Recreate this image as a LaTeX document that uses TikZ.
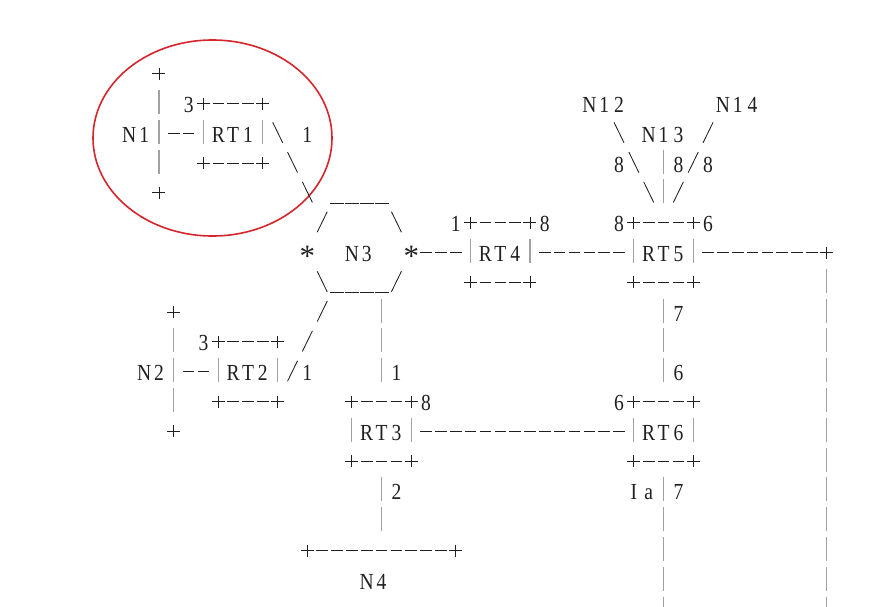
\documentclass[tikz,border=0pt]{standalone}
\usepackage{fontspec}
\setmainfont{Liberation Serif}
\usepackage{graphicx}
\usetikzlibrary{shapes.geometric}
\definecolor{ink}{RGB}{32,32,32}
\definecolor{barc}{RGB}{160,160,168}
\definecolor{ringred}{RGB}{214,38,44}
\tikzset{
  inkline/.style={draw=ink, line width=0.85pt},
  barline/.style={draw=barc, line width=1.1pt},
  glyph/.style={anchor=base, inner sep=0pt, outer sep=0pt, text=ink, font=\fontsize{23}{23}\selectfont},
  ringshape/.style={draw=ringred, line width=1.6pt, ellipse, inner sep=0pt, minimum width=239pt, minimum height=196pt}
}
\newcount\colidx
\def\pitch{14.84}
\def\xzero{129.3}
\def\yzero{82.7}
\def\rowgap{29.8}
\let\endrow\relax
\newcommand\seg[3]{\def\currow{#1}\colidx=#2\relax\rowloop#3\endrow}
\def\rowloop#1{\ifx#1\endrow\else\drawcell#1\advance\colidx by 1\relax\expandafter\rowloop\fi}
\def\drawcell#1{%
  \pgfmathsetmacro\cx{\xzero+\pitch*\the\colidx}%
  \pgfmathsetmacro\cy{\yzero+\rowgap*\currow}%
  \ifx#1.\else
  \ifx#1-\draw[inkline] (\cx-5.8,\cy-9) -- (\cx+5.8,\cy-9);\else
  \ifx#1+\draw[inkline] (\cx-6.5,\cy-9) -- (\cx+6.5,\cy-9) (\cx,\cy-15) -- (\cx,\cy-3);\else
  \ifx#1|\draw[barline] (\cx,\cy-22.5) -- (\cx,\cy+1.5);\else
  \ifx#1!\draw[inkline] (\cx-5,\cy-20) -- (\cx+5,\cy+0.5);\else
  \ifx#1/\draw[inkline] (\cx+5,\cy-20) -- (\cx-5,\cy+0.5);\else
  \ifx#1_\draw[inkline] (\cx-7,\cy+1.5) -- (\cx+7,\cy+1.5);\else
  \ifx#1*\node[glyph, name=s\currow-\the\colidx] at (\cx,\cy) {\raisebox{-5pt}{\scalebox{1.35}{*}}};\else
  \node[glyph, name=g\currow-\the\colidx] at (\cx,\cy) {\scalebox{0.85}[1]{#1}};%
  \fi\fi\fi\fi\fi\fi\fi\fi}
\begin{document}
\begin{tikzpicture}[x=1pt,y=-1pt]
\path[use as bounding box] (0,0) rectangle (894,606);
\clip (0,0) rectangle (894,606);
\fill[white] (0,0) rectangle (894,606);
\node[ringshape] (ring) at (212.5,138) {};
\seg{0}{2}{+}
\seg{1}{2}{|.3+---+}
\seg{1}{31}{N12}
\seg{1}{40}{N14}
\seg{2}{0}{N1|--|RT1|!.1}
\seg{2}{33}{!.N13./}
\seg{3}{2}{|..+---+.!}
\seg{3}{33}{8!.|8/8}
\seg{4}{2}{+}
\seg{4}{12}{!.____}
\seg{4}{35}{!|/}
\seg{5}{13}{/....!}
\seg{5}{22}{1+---+8}
\seg{5}{33}{8+---+6}
\seg{6}{12}{*..N3..*---|RT4|------|RT5|--------+}
\seg{7}{13}{!____/}
\seg{7}{23}{+---+}
\seg{7}{34}{+---+}
\seg{7}{47}{|}
\seg{8}{3}{+}
\seg{8}{13}{/...|}
\seg{8}{36}{|7}
\seg{8}{47}{|}
\seg{9}{3}{|.3+---+./....|}
\seg{9}{36}{|}
\seg{9}{47}{|}
\seg{10}{1}{N2|--|RT2|/1....|1}
\seg{10}{36}{|6}
\seg{10}{47}{|}
\seg{11}{3}{|..+---+....+---+8}
\seg{11}{33}{6+---+}
\seg{11}{47}{|}
\seg{12}{3}{+}
\seg{12}{15}{|RT3|--------------|RT6|}
\seg{12}{47}{|}
\seg{13}{15}{+---+}
\seg{13}{34}{+---+}
\seg{13}{47}{|}
\seg{14}{17}{|2}
\seg{14}{34}{Ia|7}
\seg{14}{47}{|}
\seg{15}{17}{|}
\seg{15}{36}{|}
\seg{15}{47}{|}
\seg{16}{12}{+---------+}
\seg{16}{36}{|}
\seg{16}{47}{|}
\seg{17}{16}{N4}
\seg{17}{36}{|}
\seg{17}{47}{|}
\seg{18}{36}{|}
\seg{18}{47}{|}
\end{tikzpicture}
\end{document}
